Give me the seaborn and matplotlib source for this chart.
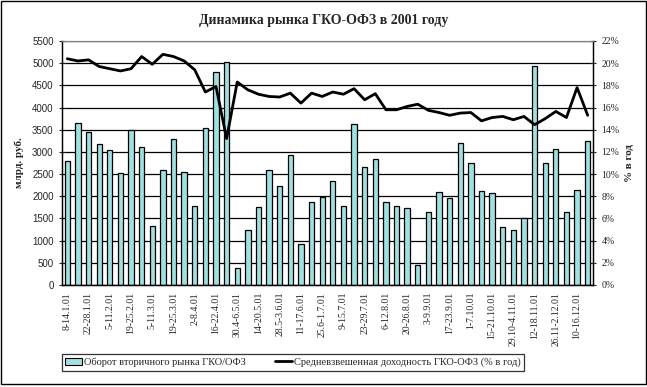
import numpy as np
import pandas as pd
import matplotlib
matplotlib.use("Agg")
import matplotlib.pyplot as plt
import seaborn as sns
from matplotlib.patches import Patch, Rectangle
from matplotlib.lines import Line2D

# недели 2001 года
weeks = ["8-14.1.01", "15-21.1.01", "22-28.1.01", "29.1-4.2.01", "5-11.2.01", "12-18.2.01",
         "19-25.2.01", "26.2-4.3.01", "5-11.3.01", "12-18.3.01", "19-25.3.01", "26.3-1.4.01",
         "2-8.4.01", "9-15.4.01", "16-22.4.01", "23-29.4.01", "30.4-6.5.01", "7-13.5.01",
         "14-20.5.01", "21-27.5.01", "28.5-3.6.01", "4-10.6.01", "11-17.6.01", "18-24.6.01",
         "25.6-1.7.01", "2-8.7.01", "9-15.7.01", "16-22.7.01", "23-29.7.01", "30.7-5.8.01",
         "6-12.8.01", "13-19.8.01", "20-26.8.01", "27.8-2.9.01", "3-9.9.01", "10-16.9.01",
         "17-23.9.01", "24-30.9.01", "1-7.10.01", "8-14.10.01", "15-21.10.01", "22-28.10.01",
         "29.10-4.11.01", "5-11.11.01", "12-18.11.01", "19-25.11.01", "26.11-2.12.01", "3-9.12.01",
         "10-16.12.01", "17-23.12.01"]

# оборот вторичного рынка, млрд. руб.
turnover = [2790, 3660, 3440, 3170, 3040, 2520, 3490, 3100, 1340, 2600,
            3280, 2540, 1790, 3530, 4800, 5020, 390, 1250, 1750, 2600,
            2230, 2920, 930, 1860, 1980, 2340, 1770, 3640, 2660, 2850,
            1880, 1770, 1740, 450, 1640, 2090, 1950, 3210, 2740, 2110,
            2070, 1300, 1250, 1520, 4930, 2740, 3060, 1640, 2150, 3240]

# средневзвешенная доходность, % годовых
yield_pct = [20.4, 20.2, 20.3, 19.7, 19.5, 19.3, 19.5, 20.6, 19.9, 20.8,
             20.6, 20.2, 19.4, 17.4, 17.9, 13.2, 18.3, 17.6, 17.2, 17.0,
             16.95, 17.3, 16.4, 17.3, 17.0, 17.4, 17.2, 17.7, 16.7, 17.25,
             15.8, 15.8, 16.1, 16.3, 15.75, 15.55, 15.3, 15.5, 15.55, 14.8,
             15.1, 15.2, 14.9, 15.2, 14.45, 15.0, 15.65, 15.1, 17.8, 15.3]

df = pd.DataFrame({"week": weeks, "turnover": turnover, "yield": yield_pct})
df["pos"] = np.arange(len(df))

sns.set_style("white")
plt.rcParams["font.family"] = ["Liberation Serif", "DejaVu Serif"]

fig = plt.figure(figsize=(6.47, 3.87), dpi=100)
ax = fig.add_axes([62 / 647, 1 - 285 / 387, 531 / 647, 244 / 387])

sns.barplot(data=df, x="week", y="turnover", ax=ax, color="#a0e0e0",
            edgecolor="black", linewidth=0.9, width=0.5, saturation=1)
ax.set_xlim(-0.5, len(df) - 0.5)
ax.set_ylim(0, 5500)
ax.set_yticks(np.arange(0, 5501, 500))
ax.yaxis.grid(True, color="black", linewidth=0.9)
ax.set_axisbelow(True)
ax.set_xlabel("")
ax.set_ylabel("млрд. руб.", fontsize=8, fontweight="bold", labelpad=6)
for lbl in ax.get_yticklabels():
    lbl.set_fontfamily("Liberation Sans")
ax.tick_params(axis="y", labelsize=7, direction="inout", length=5, width=0.8)

# подписи через одну неделю, засечки между категориями
ax.set_xticks(df["pos"][::2])
ax.set_xticklabels(df["week"][::2], rotation=90, fontsize=7)
ax.set_xticks(np.arange(-0.5, len(df), 1), minor=True)
ax.tick_params(axis="x", which="major", length=0, pad=5)
ax.tick_params(axis="x", which="minor", direction="inout", length=6, width=0.8)

ax2 = ax.twinx()
sns.lineplot(data=df, x="pos", y="yield", ax=ax2, color="black", linewidth=2)
ax2.set_ylim(0, 22)
ax2.set_yticks(np.arange(0, 23, 2))
ax2.set_yticklabels([f"{v}%" for v in range(0, 23, 2)], fontsize=7)
ax2.tick_params(axis="y", direction="inout", length=5, width=0.8)
ax2.set_ylabel("% в год", fontsize=8, fontweight="bold", labelpad=4)
ax2.set_xlabel("")

for a in (ax, ax2):
    for s in ("left", "right", "bottom"):
        a.spines[s].set_color("black")
        a.spines[s].set_linewidth(0.9)
    a.spines["top"].set_color("#808080")

fig.suptitle("Динамика рынка ГКО-ОФЗ в 2001 году", fontsize=10, fontweight="bold", y=0.965)

handles = [Patch(facecolor="#a0e0e0", edgecolor="black", linewidth=0.8),
           Line2D([0], [0], color="black", linewidth=2)]
labels = ["Оборот вторичного рынка ГКО/ОФЗ", "Средневзвешенная доходность ГКО-ОФЗ (% в год)"]
leg = fig.legend(handles, labels, loc="center", bbox_to_anchor=(293 / 647, 1 - 362.5 / 387),
                 ncol=2, fontsize=7.5, frameon=True, fancybox=False, handlelength=1.6,
                 handletextpad=0.2, columnspacing=2.8, borderpad=0.35, borderaxespad=0)
leg.get_frame().set_edgecolor("black")
leg.get_frame().set_linewidth(0.9)

fig.patches.append(Rectangle((0.001, 1 - 384 / 387), 0.997, 384 / 387 - 0.002,
                             transform=fig.transFigure, fill=False,
                             edgecolor="black", linewidth=1))

fig.savefig("out.png", dpi=100)
